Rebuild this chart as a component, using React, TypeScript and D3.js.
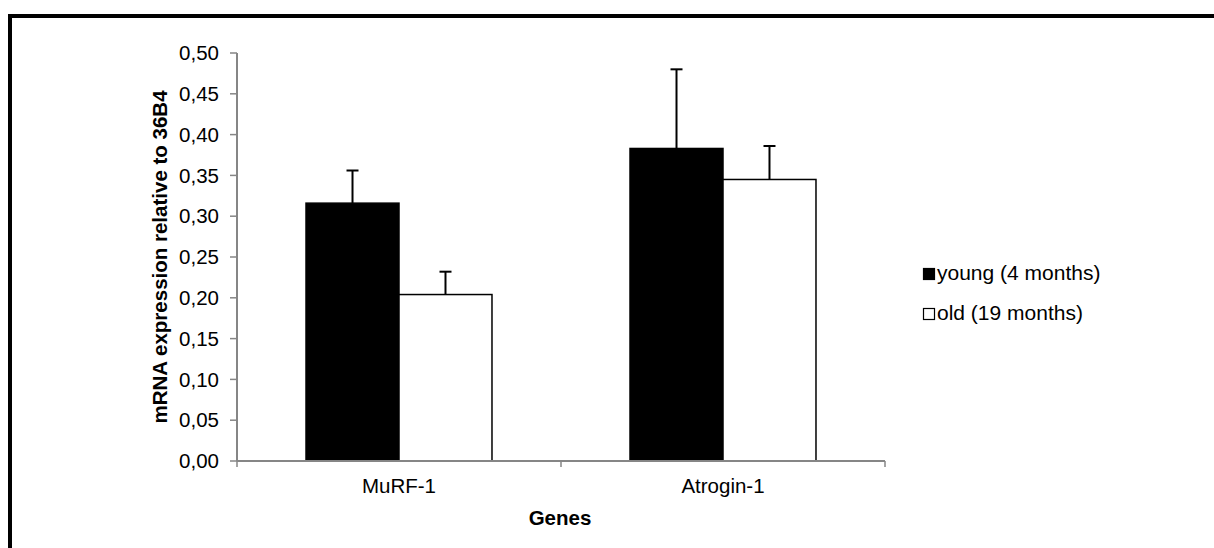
import { useMemo } from "react";
import * as d3 from "d3";

const genes = ["MuRF-1", "Atrogin-1"];
const groups = ["young (4 months)", "old (19 months)"];
const youngValues = [0.316, 0.383];
const youngErrors = [0.040, 0.097];
const oldValues = [0.204, 0.345];
const oldErrors = [0.028, 0.041];
const yTicks = [0, 0.05, 0.1, 0.15, 0.2, 0.25, 0.3, 0.35, 0.4, 0.45, 0.5];

const fills = ["#000000", "#ffffff"];
const font = "'Liberation Sans', Arial, sans-serif";
const axisColor = "#868686";

const W = 1214;
const H = 548;

const App = () => {
  const x = useMemo(
    () =>
      d3.scaleBand<string>().domain(genes).range([237, 885]).paddingInner(0.426).paddingOuter(0.213),
    []
  );
  const xSub = useMemo(
    () => d3.scaleBand<string>().domain(groups).range([0, x.bandwidth()]).padding(0),
    [x]
  );
  const y = useMemo(() => d3.scaleLinear().domain([0, 0.5]).range([461, 53]), []);
  const fmt = (v: number) => d3.format(".2f")(v).replace(".", ",");

  const rows = genes.map((g, i) => [
    { gene: g, group: groups[0], value: youngValues[i], err: youngErrors[i] },
    { gene: g, group: groups[1], value: oldValues[i], err: oldErrors[i] },
  ]);

  const step = x.step();
  const catEdges = [237, ...genes.map((g) => (x(g) as number) + x.bandwidth() / 2 + step / 2)];

  return (
    <svg
      width={W}
      height={H}
      style={{ position: "absolute", left: 0, top: 0, background: "#fff" }}
      fontFamily={font}
    >
      {/* outer frame (top and left only visible) */}
      <line x1={8} x2={W} y1={16} y2={16} stroke="#000" strokeWidth={4} />
      <line x1={10} x2={10} y1={14} y2={H} stroke="#000" strokeWidth={4} />

      {/* y axis */}
      <line x1={237} x2={237} y1={y(0.5)} y2={y(0)} stroke={axisColor} strokeWidth={2} />
      {yTicks.map((t) => (
        <g key={t}>
          <line x1={230} x2={237} y1={y(t)} y2={y(t)} stroke={axisColor} strokeWidth={1.5} />
          <text x={219} y={y(t)} dy="0.35em" textAnchor="end" fontSize={20.5} fill="#000">
            {fmt(t)}
          </text>
        </g>
      ))}

      {/* bars */}
      {rows.map((row, i) =>
        row.map((d, j) => {
          const bx = (x(d.gene) as number) + (xSub(d.group) as number);
          const bw = xSub.bandwidth();
          const top = y(d.value);
          const cx = bx + bw / 2;
          return (
            <g key={`${i}-${j}`}>
              <line x1={cx} x2={cx} y1={top} y2={y(d.value + d.err)} stroke="#000" strokeWidth={2} />
              <line
                x1={cx - 6}
                x2={cx + 6}
                y1={y(d.value + d.err)}
                y2={y(d.value + d.err)}
                stroke="#000"
                strokeWidth={2}
              />
              <rect
                x={bx}
                y={top}
                width={bw}
                height={y(0) - top}
                fill={fills[j]}
                stroke="#000"
                strokeWidth={1.5}
              />
            </g>
          );
        })
      )}

      {/* x axis */}
      <line x1={237} x2={885} y1={y(0)} y2={y(0)} stroke={axisColor} strokeWidth={2} />
      {catEdges.map((e, i) => (
        <line key={i} x1={e} x2={e} y1={y(0)} y2={y(0) + 6} stroke={axisColor} strokeWidth={1.5} />
      ))}
      {genes.map((g) => (
        <text
          key={g}
          x={(x(g) as number) + x.bandwidth() / 2}
          y={493}
          textAnchor="middle"
          fontSize={20.5}
          fill="#000"
        >
          {g}
        </text>
      ))}

      {/* axis titles */}
      <text x={560} y={525} textAnchor="middle" fontSize={20.5} fontWeight="bold" fill="#000">
        Genes
      </text>
      <text
        transform={`translate(167, ${(y(0.5) + y(0)) / 2}) rotate(-90)`}
        textAnchor="middle"
        fontSize={20.5}
        fontWeight="bold"
        fill="#000"
      >
        mRNA expression relative to 36B4
      </text>

      {/* legend */}
      {groups.map((g, i) => (
        <g key={g} transform={`translate(923, ${268 + i * 40})`}>
          <rect x={0.5} y={0.5} width={11} height={11} fill={fills[i]} stroke="#000" strokeWidth={1.2} />
          <text x={14} y={12} fontSize={21} fill="#000">
            {g}
          </text>
        </g>
      ))}
    </svg>
  );
};

export default App;
